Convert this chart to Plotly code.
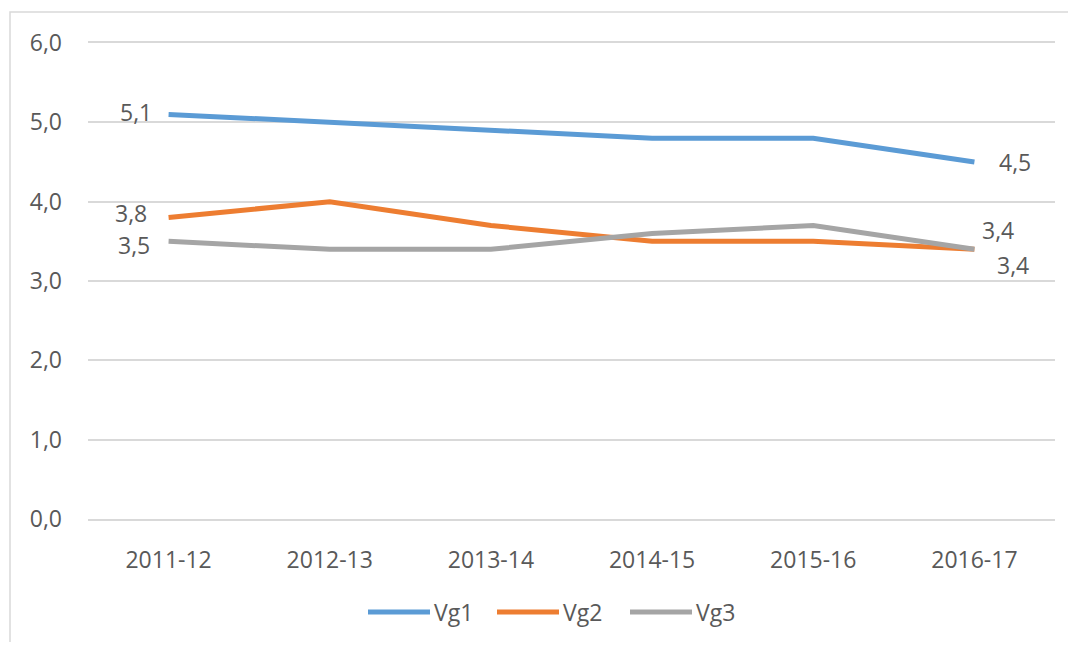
import plotly.graph_objects as go

categories = ["2011-12", "2012-13", "2013-14", "2014-15", "2015-16", "2016-17"]
series_names = ["Vg1", "Vg2", "Vg3"]
vg1 = [5.1, 5.0, 4.9, 4.8, 4.8, 4.5]
vg2 = [3.8, 4.0, 3.7, 3.5, 3.5, 3.4]
vg3 = [3.5, 3.4, 3.4, 3.6, 3.7, 3.4]
y_ticks = [0, 1, 2, 3, 4, 5, 6]

colors = ["#5b9bd5", "#ed7d31", "#a5a5a5"]
FONT = "Open Sans"
TXT = "#595959"
FS = 23
GRID = "#d9d9d9"

# figure sits inside the page body (8px default margin)
W, H = 1060, 634
L, R, T, B = 80, 13, 35, 123
pw, ph = W - L - R, H - T - B


def px(xpage):
    return (xpage - 8 - L) / pw


def py(ypage):
    return (H - B - (ypage - 8)) / ph


fig = go.Figure()
for name, vals, col in zip(series_names, [vg1, vg2, vg3], colors):
    fig.add_trace(go.Scatter(
        x=categories, y=vals, name=name, mode="lines",
        line=dict(color=col, width=5), hoverinfo="skip", showlegend=False))


def fmt(v):
    return f"{v:.1f}".replace(".", ",")


# data labels: first and last point of each series
label_offsets = {
    "Vg1": [(0, -33, 2), (5, 41, 0)],
    "Vg2": [(0, -38, 5), (5, 39, -16)],
    "Vg3": [(0, -35, -4), (5, 24, 19)],
}
for name, vals in zip(series_names, [vg1, vg2, vg3]):
    for idx, dx, dy in label_offsets[name]:
        fig.add_annotation(x=categories[idx], y=vals[idx], xref="x", yref="y",
                           text=fmt(vals[idx]), showarrow=False,
                           xshift=dx, yshift=dy,
                           font=dict(family=FONT, size=FS, color=TXT))

# legend (Excel-style long line keys)
legend_x = [368, 497, 630]
for name, col, lx in zip(series_names, colors, legend_x):
    fig.add_shape(type="line", xref="paper", yref="paper",
                  x0=px(lx), x1=px(lx + 62), y0=py(612), y1=py(612),
                  line=dict(color=col, width=5))
    fig.add_annotation(xref="paper", yref="paper", x=px(lx + 64), y=py(612),
                       xanchor="left", yanchor="middle", text=name, showarrow=False,
                       font=dict(family=FONT, size=FS, color=TXT))

# outer chart border (extends past right/bottom edges)
fig.add_shape(type="rect", xref="paper", yref="paper",
              x0=px(10), x1=px(1100), y0=py(700), y1=py(12),
              line=dict(color=GRID, width=1.5), fillcolor="rgba(0,0,0,0)", layer="below")

fig.update_layout(
    width=W, height=H,
    margin=dict(l=L, r=R, t=T, b=B),
    paper_bgcolor="white", plot_bgcolor="white",
    separators=", ",
    font=dict(family=FONT, size=FS, color=TXT),
    showlegend=False,
    xaxis=dict(type="category", range=[-0.5, 5.5], showgrid=False, zeroline=False,
               showline=True, mirror=True, linecolor=GRID, linewidth=1.5,
               ticks="", ticklabelstandoff=20,
               tickfont=dict(family=FONT, size=FS, color=TXT), fixedrange=True),
    yaxis=dict(range=[0, 6], tickvals=y_ticks, tickformat=".1f", showgrid=True,
               gridcolor=GRID, gridwidth=1.5, zeroline=False, showline=False,
               ticks="", ticklabelstandoff=25,
               tickfont=dict(family=FONT, size=FS, color=TXT), fixedrange=True),
)

fig.write_html("out.html")
